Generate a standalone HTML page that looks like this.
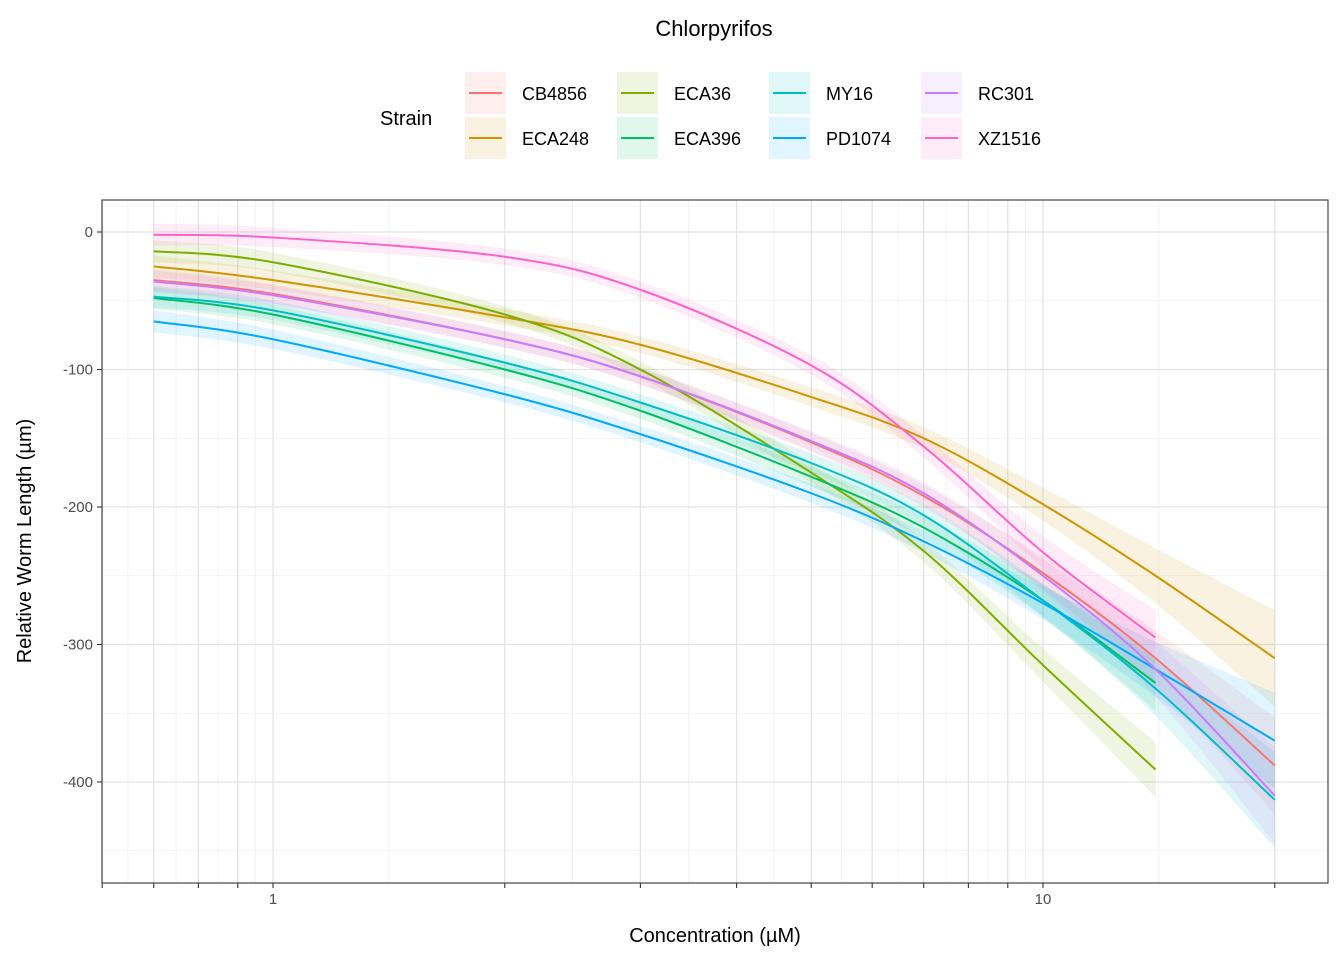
<!DOCTYPE html>
<html><head><meta charset="utf-8"><style>
body{margin:0;background:#fff;}
svg{display:block;font-family:"Liberation Sans",Arial,sans-serif;}
</style></head><body>
<svg id="chart" width="1344" height="960" viewBox="0 0 1344 960">
<rect width="1344" height="960" fill="#fff"/>
<text x="714" y="36" font-size="22" text-anchor="middle" fill="#000">Chlorpyrifos</text>
<g id="legend">
<text x="380" y="125" font-size="20" fill="#000">Strain</text>
</g>
<g id="grid"></g>
<g id="ribbons"></g>
<g id="lines"></g>
<rect x="102" y="200" width="1226" height="683" fill="none" stroke="#333" stroke-width="1.1"/>
<g id="axes"></g>
<text x="715" y="942" font-size="20" text-anchor="middle" fill="#000">Concentration (µM)</text>
<text transform="translate(31,541) rotate(-90)" font-size="20" text-anchor="middle" fill="#000">Relative Worm Length (µm)</text>
</svg>
<script>
const strains = ["CB4856","ECA248","ECA36","ECA396","MY16","PD1074","RC301","XZ1516"];
const colors = ["#F8766D","#CD9600","#7CAE00","#00BE67","#00BFC4","#00A9FF","#C77CFF","#FF61CC"];
const concs = [0.7,1,2,3,5,7,10,14,20];
const valCB4856 = [-35,-45,-78,-105,-153,-192,-248,-310,-388];
const valECA248 = [-25,-35,-62,-82,-120,-150,-198,-250,-310];
const valECA36 = [-14,-22,-60,-100,-175,-232,-315,-391,null];
const valECA396 = [-48,-60,-100,-130,-178,-215,-268,-328,null];
const valMY16 = [-47,-57,-95,-124,-168,-206,-268,-332,-413];
const valPD1074 = [-65,-78,-118,-147,-190,-225,-270,-318,-370];
const valRC301 = [-36,-46,-78,-105,-152,-190,-250,-318,-410];
const valXZ1516 = [-2,-4,-18,-42,-97,-156,-233,-295,null];
const ciHalf = [8,7,6,6,7,8,12,20,35];
const yTicks = [0,-100,-200,-300,-400];
const xMajor = [0.6,0.7,0.8,0.9,1,2,3,4,5,6,7,8,9,10,20];
const xLabels = [1,10];
const series = [valCB4856,valECA248,valECA36,valECA396,valMY16,valPD1074,valRC301,valXZ1516];

const NS="http://www.w3.org/2000/svg";
const X = c => 273 + 770*Math.log10(c);
const Y = v => 232 - 1.375*v;
function mk(tag, attrs, parent){const e=document.createElementNS(NS,tag);for(const k in attrs)e.setAttribute(k,attrs[k]);parent.appendChild(e);return e;}
const grid=document.getElementById('grid'), axes=document.getElementById('axes');
for(let v=50; v>=-450; v-=100){ if(Y(v)<200||Y(v)>883) continue;
 const l=mk('line',{x1:102,x2:1328,y1:Y(v),y2:Y(v),stroke:'#ebebeb','stroke-width':0.6},grid);
 
 }
const allX=[...xMajor,30];
for(let i=0;i<allX.length-1;i++){const m=Math.sqrt(allX[i]*allX[i+1]); if(X(m)>1328) continue;
 const l=mk('line',{x1:X(m),x2:X(m),y1:200,y2:883,stroke:'#ebebeb','stroke-width':0.6},grid);
 
 }
yTicks.forEach(v=>{
 const l=mk('line',{x1:102,x2:1328,y1:Y(v),y2:Y(v),stroke:'#e3e3e3','stroke-width':1.3},grid);
 
 
 const t=mk('line',{x1:97,x2:102,y1:Y(v),y2:Y(v),stroke:'#333','stroke-width':1.1},axes);
 
 
 const tx=mk('text',{x:93,y:Y(v)+5,'font-size':15,'text-anchor':'end',fill:'#4d4d4d'},axes);
 tx.textContent=v;
 
 
});
xMajor.forEach(c=>{
 const l=mk('line',{x1:X(c),x2:X(c),y1:200,y2:883,stroke:'#e3e3e3','stroke-width':1.3},grid);
 
 
 const t=mk('line',{x1:X(c),x2:X(c),y1:883,y2:888,stroke:'#333','stroke-width':1.1},axes);
 
 
});
xLabels.forEach(c=>{
 const tx=mk('text',{x:X(c),y:904,'font-size':15,'text-anchor':'middle',fill:'#4d4d4d'},axes);
 tx.textContent=c;
 
 
});
function smooth(pts){let d='M'+pts[0][0]+','+pts[0][1];
 for(let i=0;i<pts.length-1;i++){const p0=pts[i-1]||pts[i],p1=pts[i],p2=pts[i+1],p3=pts[i+2]||p2;
  d+=' C'+(p1[0]+(p2[0]-p0[0])/6)+','+(p1[1]+(p2[1]-p0[1])/6)+' '+(p2[0]-(p3[0]-p1[0])/6)+','+(p2[1]-(p3[1]-p1[1])/6)+' '+p2[0]+','+p2[1];}
 return d;}
const rib=document.getElementById('ribbons'), lines=document.getElementById('lines');
series.forEach((vals,si)=>{
 const idx=vals.map((v,i)=>v===null?-1:i).filter(i=>i>=0);
 const mid=idx.map(i=>[X(concs[i]),Y(vals[i])]);
 const up=idx.map(i=>[X(concs[i]),Y(vals[i]+ciHalf[i])]);
 const lo=idx.map(i=>[X(concs[i]),Y(vals[i]-ciHalf[i])]).reverse();
 const rd=smooth(up)+' L'+lo[0][0]+','+lo[0][1]+smooth(lo).slice(1).replace(/^[^C]*/,'')+' Z';
 const r=mk('path',{d:rd,fill:colors[si],'fill-opacity':0.12,stroke:'none'},rib);
 
 
 const p=mk('path',{d:smooth(mid),fill:'none',stroke:colors[si],'stroke-width':2},lines);
 
 
});
const leg=document.getElementById('legend');
strains.forEach((s,i)=>{
 const col=Math.floor(i/2), row=i%2;
 const kx=465+col*152, ky=72+row*45;
 const g=mk('g',{},leg);
 
 
 mk('rect',{x:kx,y:ky,width:41,height:42,fill:colors[i],'fill-opacity':0.12},g);
 mk('line',{x1:kx+4,x2:kx+37,y1:ky+21,y2:ky+21,stroke:colors[i],'stroke-width':2},g);
 const t=mk('text',{x:kx+57,y:ky+28,'font-size':18,fill:'#000'},g); t.textContent=s;
});
</script>
</body></html>
